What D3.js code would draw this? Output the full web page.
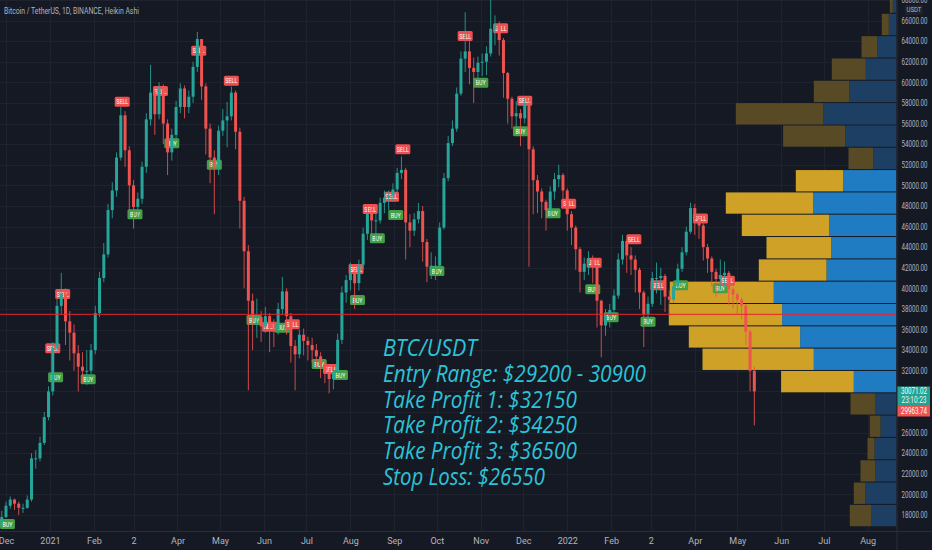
<!DOCTYPE html>
<html>
<head>
<meta charset="utf-8">
<script src="https://d3js.org/d3.v7.min.js"></script>
<style>
  body { margin: 0; background: #151924; }
</style>
</head>
<body>
<div id="chart"></div>
<script>
// Heikin Ashi candles, one every 3 days from 2020-11-28
var startDate = Date.UTC(2020, 10, 28);
var firstOpen = 17300;
var closes = [17800,18900,19500,19100,18700,18700,19500,23500,23500,25000,
27500,30000,34200,38300,39500,36800,35700,33700,32400,32000,
32000,34000,37600,41000,43300,47600,49500,52700,56800,53400,
50000,47900,48700,51800,56400,59000,56900,59500,56000,53200,
54900,57600,59400,57600,58600,61500,64200,59600,55500,52700,
51700,55300,56300,56700,59000,55200,48500,43600,38800,37100,
37200,36300,37300,36100,36000,38000,39700,37300,34400,33600,
35500,34900,34500,34000,33400,32500,31900,31200,31900,35000,
39600,40800,41500,40500,42300,45300,47300,46600,46600,48300,
48800,49000,49600,51200,51500,46400,45600,46700,47500,44500,
42100,42200,42200,45900,50700,54100,55500,58900,62300,63000,
61400,61000,61900,62000,62800,65200,65600,64100,60900,58400,
56700,57000,56500,58000,53500,50500,49400,48400,47600,49400,
50600,51000,49500,47200,45900,43800,41600,42400,42900,42200,
38800,36400,37300,37900,39300,42800,44600,43200,42800,41800,
39600,37500,38500,41000,41000,41200,39200,38900,40200,41900,
43500,45500,47800,46700,46100,44000,42900,41600,40900,41300,
41500,39900,39400,38900,38300,35800,32000,30000];
var highs = [18400,19300,19800,19600,19300,19100,19900,24000,24300,25600,
28000,30500,34800,39000,41500,40000,37800,36500,34500,33800,
34000,34600,38300,41600,44400,48200,50300,53200,57600,57200,
53800,50500,49300,52300,57000,61700,59300,60000,59800,56400,
55500,58200,59900,59700,59200,62000,64900,64000,59900,56000,
53400,55800,57400,58100,59600,59200,55600,48900,44200,39500,
39000,37800,38200,37600,37000,38600,41100,40000,37600,35000,
36000,36100,35300,35200,34600,33800,32900,32200,32600,35600,
40200,41300,42500,41800,42800,45900,47900,47700,47400,48800,
49500,49500,50200,51700,52800,51700,47200,47300,48300,48000,
44800,43500,43100,46400,51200,54800,56300,59500,63000,66800,
64000,62400,62500,62800,63500,68000,66500,65900,64300,61000,
58600,58200,57400,58500,58300,53800,51000,49700,48600,49900,
51200,52000,51200,49700,47500,46100,44000,43000,43600,43200,
42400,38900,38000,38500,39900,43400,45200,44800,44000,43200,
42000,39800,39200,41600,42500,42000,41400,39800,40700,42400,
44000,46000,48300,48200,47100,46300,44300,43100,41900,42800,
42600,41700,40100,39600,39100,38500,36000,32400];
var lows = [16900,17700,18600,18500,18000,18200,18600,19300,22500,23200,
24800,27200,29600,33800,37500,34500,33000,32000,30000,30800,
30600,31500,33600,37200,40600,43000,46800,48900,52400,51800,
47500,45800,46800,48200,51200,55800,54900,56400,54000,51000,
52400,54300,57000,56500,57000,58000,61000,58300,53000,50200,
47200,51000,54800,53700,56300,53500,45800,40000,30100,34000,
35200,34800,35700,33800,34300,35500,37400,35500,32800,30100,
33200,33500,33000,32800,32300,31300,30800,29800,30200,31600,
34600,38600,39800,38000,39800,41900,44700,45000,44600,46300,
47300,47600,48400,49200,50600,42800,44000,45100,46300,42600,
40600,40900,40800,41900,45700,50400,53800,55200,58700,61000,
59800,58000,60000,60600,60700,62500,63600,62600,58500,56000,
55500,55600,53800,56000,42100,47200,47300,46800,45600,46800,
48600,49800,47800,45600,44200,41800,39600,40800,41300,40500,
36200,33300,35400,36200,37400,39000,42300,41500,41300,39600,
38000,34300,36900,38200,39500,38400,37700,37300,38600,39800,
41600,43200,45300,45200,44800,42700,41500,40200,39200,39800,
40000,38400,38100,37500,37000,34500,30000,26700];

// BUY / SELL signals
var signalTypes = ["BUY","SELL","BUY","SELL","BUY","SELL","BUY","SELL","BUY","SELL","BUY",
  "SELL","BUY","SELL","BUY","SELL","BUY","SELL","BUY","SELL","BUY","SELL","BUY","SELL",
  "BUY","SELL","BUY","SELL","BUY","SELL","BUY","SELL","BUY","SELL","BUY","SELL","BUY",
  "SELL","BUY","SELL","BUY","SELL","BUY","SELL"];
var signalDates = ["2020-12-02","2021-01-03","2021-01-05","2021-01-10","2021-01-28","2021-02-21",
  "2021-03-02","2021-03-20","2021-03-28","2021-04-16","2021-04-27","2021-05-09","2021-05-25",
  "2021-06-05","2021-06-14","2021-06-21","2021-07-10","2021-07-18","2021-07-25","2021-08-05",
  "2021-08-06","2021-08-15","2021-08-20","2021-08-30","2021-09-02","2021-09-07","2021-10-01",
  "2021-10-21","2021-11-01","2021-11-15","2021-11-29","2021-12-02","2021-12-22","2022-01-02",
  "2022-01-19","2022-01-20","2022-02-01","2022-02-17","2022-02-27","2022-03-06","2022-03-22",
  "2022-04-05","2022-04-19","2022-04-24"];
var signalPrices = [17130,34180,31370,39450,31170,58120,47190,59160,54080,63070,52000,
  60160,36930,36280,36180,36510,32660,32170,31590,41880,38870,47700,44860,48900,
  47120,53500,41680,64500,59960,65240,55250,58220,47290,48220,39910,42490,37190,
  44760,36760,40300,40300,46770,40010,40740];

// volume profile (bottom to top)
var vpEdges = [16860,19030,21200,23360,25530,27700,29860,32030,34200,36360,38530,40700,
  42860,45030,47200,49360,51530,53700,55860,58030,60200,62360,64530,66700,68860];
var vpUp = [21.7,11.3,14.6,7,10.7,25,72.7,111.3,111.3,113.3,104,67.7,64.6,87.3,87.3,47.3,
  24.6,62,87.3,35.3,34,15.6,7,3];
var vpDown = [25,31.4,21.4,22,16,21,42.7,82.7,96.4,114.4,122.7,70,65.4,67.4,83.4,53.4,
  23.4,51.4,73.4,47.4,30.7,19.4,7.7,3.7];
var vpValueArea = [6, 15];

// axes
var timeTicks = ["2020-12-01","2021-01-01","2021-02-01","2021-03-01","2021-04-01","2021-05-01",
  "2021-06-01","2021-07-01","2021-08-01","2021-09-01","2021-10-01","2021-11-01","2021-12-01",
  "2022-01-01","2022-02-01","2022-03-01","2022-04-01","2022-05-01","2022-06-01","2022-07-01",
  "2022-08-01"];
var timeLabels = ["Dec","2021","Feb","2","Apr","May","Jun","Jul","Aug","Sep","Oct","Nov","Dec",
  "2022","Feb","2","Apr","May","Jun","Jul","Aug"];
var priceTicks = [18000,20000,22000,24000,26000,28000,30000,32000,34000,36000,38000,40000,
  42000,44000,46000,48000,50000,52000,54000,56000,58000,60000,62000,64000,66000,68000];

var lastPrice = "30071.02", countdown = "23:10:23", closeTag = "29963.74";
var markLine = 37480;
var title = "Bitcoin / TetherUS, 1D, BINANCE, Heikin Ashi";
var noteLines = ["BTC/USDT", "Entry Range: $29200 - 30900", "Take Profit 1: $32150",
  "Take Profit 2: $34250", "Take Profit 3: $36500", "Stop Loss: $26550"];
var noteWidths = [94, 263, 194, 194, 194, 162];

var W = 932, H = 550, plotRight = 896.5, plotBottom = 531;
var upCol = "#26a69a", downCol = "#ef5350";

// squeeze a text horizontally to a given width, keeping its anchor point
function squeeze(sel, w) {
    sel.each(function() {
        var n = this.getComputedTextLength();
        var s = Math.min(1, w / n);
        var tx = +this.getAttribute("x") || 0;
        this.setAttribute("x", tx / s);
        this.setAttribute("transform", "scale(" + s + ",1)");
    });
}

var svg = d3.select("#chart").append("svg")
    .attr("width", W).attr("height", H)
    .style("background", "#151924")
    .style("display", "block");

var x = d3.scaleUtc()
    .domain([new Date(Date.UTC(2020, 11, 1)), new Date(Date.UTC(2022, 7, 1))])
    .range([6, 867.7]);
var y = d3.scaleLinear().domain([18000, 66000]).range([515, 20.5]);

svg.append("defs").append("clipPath").attr("id", "plot")
   .append("rect").attr("width", plotRight).attr("height", plotBottom);
var plot = svg.append("g").attr("clip-path", "url(#plot)");

// grid
plot.selectAll(".hg").data(priceTicks).enter().append("line")
    .attr("x1", 0).attr("x2", plotRight)
    .attr("y1", function(d) { return Math.round(y(d)) + 0.5; })
    .attr("y2", function(d) { return Math.round(y(d)) + 0.5; })
    .attr("stroke", "#1f2330");
plot.selectAll(".vg").data(timeTicks).enter().append("line")
    .attr("y1", 0).attr("y2", plotBottom)
    .attr("x1", function(d) { return Math.round(x(new Date(d))) + 0.5; })
    .attr("x2", function(d) { return Math.round(x(new Date(d))) + 0.5; })
    .attr("stroke", "#1f2330");

// volume profile
var totals = vpUp.map(function(u, i) { return u + vpDown[i]; });
var vx = d3.scaleLinear().domain([0, d3.max(totals)]).range([0, 227.7]);
var bins = vpUp.map(function(u, i) {
    return { k: i, up: u, down: vpDown[i], lo: vpEdges[i], hi: vpEdges[i + 1],
             bright: i >= vpValueArea[0] && i <= vpValueArea[1] };
});
var vp = plot.append("g");
vp.selectAll(".vd").data(bins).enter().append("rect")
    .attr("x", function(d) { return plotRight - vx(d.down); })
    .attr("width", function(d) { return vx(d.down); })
    .attr("y", function(d) { return y(d.hi) + 0.5; })
    .attr("height", function(d) { return y(d.lo) - y(d.hi) - 1; })
    .attr("fill", function(d) { return d.bright ? "#1f7cc2" : "#1c3f63"; });
vp.selectAll(".vu").data(bins).enter().append("rect")
    .attr("x", function(d) { return plotRight - vx(d.down + d.up); })
    .attr("width", function(d) { return vx(d.up); })
    .attr("y", function(d) { return y(d.hi) + 0.5; })
    .attr("height", function(d) { return y(d.lo) - y(d.hi) - 1; })
    .attr("fill", function(d) { return d.bright ? "#cfa127" : "#574a25"; });

// signals
var sig = signalTypes.map(function(t, i) {
    return { t: t, d: new Date(signalDates[i]), p: signalPrices[i] };
});
var sg = plot.selectAll(".sig").data(sig).enter().append("g")
    .attr("transform", function(d) { return "translate(" + x(d.d) + "," + y(d.p) + ")"; });
sg.append("rect")
    .attr("x", -7.5).attr("y", -5).attr("width", 15).attr("height", 10).attr("rx", 1.5)
    .attr("fill", function(d) { return d.t == "BUY" ? "#43a047" : "#ef4f4f"; });
sg.append("text")
    .attr("text-anchor", "middle").attr("y", 2.6).attr("x", 0)
    .attr("font-family", "Roboto, sans-serif").attr("font-size", 7.5)
    .attr("fill", "#ffffff")
    .text(function(d) { return d.t; })
    .each(function(d) { squeeze(d3.select(this), d.t == "BUY" ? 10 : 12); });

// candles
var candles = closes.map(function(c, i) {
    var o = i == 0 ? firstOpen : closes[i - 1];
    return { d: new Date(startDate + i * 3 * 86400000), o: o, c: c, h: highs[i], l: lows[i] };
});
var cg = plot.selectAll(".candle").data(candles).enter().append("g");
cg.append("line")
    .attr("x1", function(d) { return x(d.d); }).attr("x2", function(d) { return x(d.d); })
    .attr("y1", function(d) { return y(d.h); }).attr("y2", function(d) { return y(d.l); })
    .attr("stroke", function(d) { return d.c >= d.o ? upCol : downCol; })
    .attr("stroke-width", 1).attr("opacity", 0.85);
cg.append("rect")
    .attr("x", function(d) { return x(d.d) - 1.5; }).attr("width", 3)
    .attr("y", function(d) { return y(Math.max(d.o, d.c)); })
    .attr("height", function(d) { return Math.max(1, Math.abs(y(d.o) - y(d.c))); })
    .attr("fill", function(d) { return d.c >= d.o ? upCol : downCol; });

// horizontal red level
plot.append("line")
    .attr("x1", 0).attr("x2", plotRight)
    .attr("y1", y(markLine)).attr("y2", y(markLine))
    .attr("stroke", "#e8232b").attr("stroke-width", 1);

// note text
var note = svg.append("g")
    .attr("transform", "translate(" + x(new Date("2021-08-24")) + "," + y(33430) + ")");
note.selectAll("g").data(noteLines).enter().append("g")
    .attr("transform", function(d, i) { return "translate(0," + (i * 25.8) + ")"; })
    .append("text")
    .attr("x", 0).attr("y", 0)
    .attr("font-family", "'Open Sans', sans-serif").attr("font-style", "italic")
    .attr("font-size", 24).attr("fill", "#2cc3d6")
    .text(function(d) { return d; })
    .each(function(d, i) { squeeze(d3.select(this), noteWidths[i]); });

// title
svg.append("text").attr("x", 4).attr("y", 14)
    .attr("font-family", "Roboto, sans-serif").attr("font-size", 9.5)
    .attr("fill", "#b2b5be")
    .text(title)
    .call(squeeze, 135);

// right axis
svg.append("line").attr("x1", plotRight + 0.5).attr("x2", plotRight + 0.5)
    .attr("y1", 0).attr("y2", H).attr("stroke", "#2a2e39");
var ay = svg.append("g").attr("transform", "translate(" + (plotRight + 1) + ",0)")
    .call(d3.axisRight(y).tickValues(priceTicks).tickSize(0).tickPadding(4)
          .tickFormat(function(d) { return d3.format(".2f")(d); }));
ay.select(".domain").remove();
ay.selectAll("text").attr("font-family", "Roboto, sans-serif").attr("font-size", 8.5)
    .attr("fill", "#b2b5be").call(squeeze, 26);
svg.append("rect").attr("x", 905).attr("y", 5).attr("width", 18).attr("height", 10)
    .attr("fill", "#1e222d");
svg.append("text").attr("x", 914).attr("y", 12.5).attr("text-anchor", "middle")
    .attr("font-family", "Roboto, sans-serif").attr("font-size", 8)
    .attr("fill", "#b2b5be").text("USDT").call(squeeze, 15);

// price tags
function tag(txt, yy, col, w) {
    svg.append("text").attr("x", 914).attr("y", yy).attr("text-anchor", "middle")
        .attr("font-family", "Roboto, sans-serif").attr("font-size", 8.5).attr("fill", col)
        .text(txt).call(squeeze, w);
}
svg.append("rect").attr("x", plotRight + 1).attr("y", 386.5).attr("width", W - plotRight - 3)
    .attr("height", 19.5).attr("fill", "#22a393");
tag(lastPrice, 394.5, "#ffffff", 26);
tag(countdown, 403.5, "#e8f7f5", 25);
svg.append("rect").attr("x", plotRight + 1).attr("y", 406).attr("width", W - plotRight - 3)
    .attr("height", 10.5).attr("fill", "#ef5350");
tag(closeTag, 414, "#ffffff", 26);

// time axis
svg.append("line").attr("x1", 0).attr("x2", W)
    .attr("y1", plotBottom + 0.5).attr("y2", plotBottom + 0.5).attr("stroke", "#2a2e39");
var ax = svg.append("g").attr("transform", "translate(0," + (plotBottom + 1) + ")")
    .call(d3.axisBottom(x).tickValues(timeTicks.map(function(d) { return new Date(d); }))
          .tickSize(0).tickPadding(6)
          .tickFormat(function(d, i) { return timeLabels[i]; }));
ax.select(".domain").remove();
ax.selectAll("text").attr("font-family", "Roboto, sans-serif").attr("font-size", 9)
    .attr("fill", "#b2b5be");
</script>
</body>
</html>
